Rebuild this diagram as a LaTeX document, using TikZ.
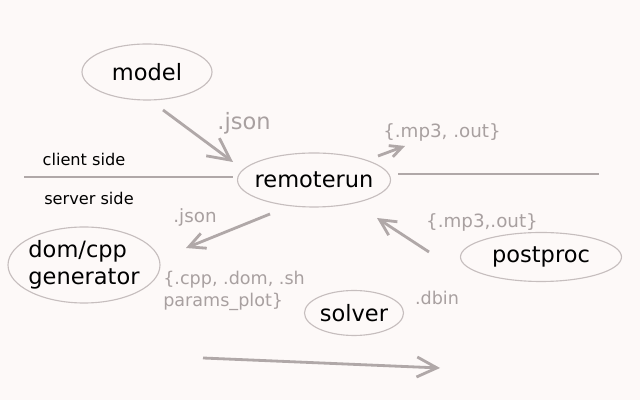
\documentclass[tikz,border=0pt]{standalone}
\usepackage{fontspec}
\setmainfont{DejaVu Sans}
\usepackage{tikz}
\usetikzlibrary{arrows.meta, positioning, shapes.geometric}
\definecolor{paper}{HTML}{FDF9F8}
\definecolor{wire}{HTML}{B0A8A8}
\definecolor{rim}{HTML}{C6BEBE}
\definecolor{faint}{HTML}{A8A0A0}

\begin{document}
\begin{tikzpicture}[
    part/.style={ellipse, draw=rim, line width=0.8pt, inner xsep=-8pt, inner ysep=0pt, align=left, font=\fontsize{16}{19}\selectfont},
    ext/.style={text=faint, inner sep=0pt, font=\fontsize{13}{15.5}\selectfont},
    side/.style={font=\fontsize{11.5}{13}\selectfont},
    flow/.style={draw=wire, line width=2pt, -{Straight Barb[length=#1, width=#1]}},
    flow/.default=4mm,
    divider/.style={draw=wire, line width=2pt},
]
  \fill[paper] (0,0) rectangle (16,10);

  % components
  \node[part, minimum width=3.25cm, minimum height=1.4cm] (model) at (3.675,8.2) {model};
  \node[part, minimum width=3.825cm, minimum height=1.35cm] (remoterun) at (7.85,5.5) {remoterun};
  \node[part, minimum width=3.8cm, minimum height=1.9cm] (domcpp) at (2.1,3.375) {dom/cpp\\generator};
  \node[part, minimum width=4.025cm, minimum height=1.225cm] (postproc) at (13.525,3.575) {postproc};
  \node[part, minimum width=2.475cm, minimum height=1.125cm] (solver) at (8.85,2.175) {solver};

  % client / server split
  \coordinate (cutL0) at (0.6,5.575);
  \coordinate (cutL1) at (5.825,5.575);
  \coordinate (cutR0) at (9.95,5.65);
  \coordinate (cutR1) at (14.975,5.65);
  \draw[divider] (cutL0) -- (cutL1);
  \draw[divider] (cutR0) -- (cutR1);
  \node[side] (client) at (2.1,6.025) {client side};
  \node[side] (server) at (2.225,5.05) {server side};

  % arrow ends
  \coordinate (modelout) at (4.075,7.25);
  \coordinate (runin) at (5.825,5.95);
  \coordinate (runout) at (9.45,6.1);
  \coordinate (mp3tip) at (10.125,6.35);
  \coordinate (rundown) at (6.75,4.65);
  \coordinate (gentip) at (4.65,3.8);
  \coordinate (postout) at (10.725,3.7);
  \coordinate (runback) at (9.425,4.55);
  \coordinate (flowA) at (5.075,1.05);
  \coordinate (flowB) at (11.0,0.8);

  \draw[flow=5.5mm] (modelout) -- (runin);
  \draw[flow=3mm] (runout) -- (mp3tip);
  \draw[flow] (rundown) -- (gentip);
  \draw[flow] (postout) -- (runback);
  \draw[flow=5mm] (flowA) -- (flowB);

  % file labels
  \node[ext, font=\fontsize{16}{19}\selectfont] (jsonup) at (6.1,6.925) {.json};
  \node[ext] (mp3up) at (11.05,6.7) {\{.mp3, .out\}};
  \node[ext] (jsondown) at (4.875,4.575) {.json};
  \node[ext, anchor=west, align=left, font=\fontsize{12.5}{15.5}\selectfont] (gensrc) at (4.075,2.725) {\{.cpp, .dom, .sh\\params\_plot\}};
  \node[ext] (mp3back) at (12.05,4.45) {\{.mp3,.out\}};
  \node[ext, font=\fontsize{12.5}{15}\selectfont] (dbin) at (10.925,2.55) {.dbin};
\end{tikzpicture}
\end{document}
